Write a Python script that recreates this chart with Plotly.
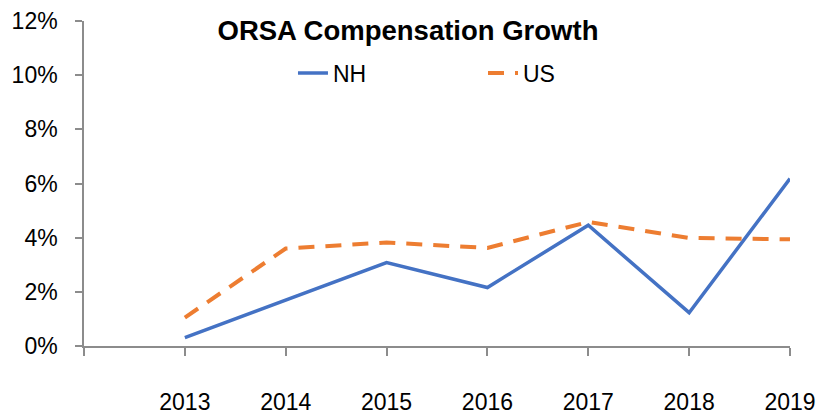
import plotly.graph_objects as go

years = [2013, 2014, 2015, 2016, 2017, 2018, 2019]
nh = [0.0031, 0.0169, 0.0308, 0.0216, 0.0446, 0.0123, 0.0618]
us = [0.0105, 0.0360, 0.0382, 0.0362, 0.0458, 0.0399, 0.0394]
year_labels = ["2013", "2014", "2015", "2016", "2017", "2018", "2019"]

FONT = "Liberation Sans"
AXIS_COLOR = "#8c8c8c"
OFF = 8  # page body margin
W, H = 832 - OFF, 415 - OFF

fig = go.Figure()
fig.add_trace(go.Scatter(x=years, y=nh, mode="lines", name="NH",
                         line=dict(color="#4472C4", width=3.5)))
fig.add_trace(go.Scatter(x=years, y=us, mode="lines", name="US",
                         line=dict(color="#ED7D31", width=4, dash="16px,11px")))

fig.update_layout(
    width=W, height=H,
    margin=dict(l=84 - OFF, r=W - (790 - OFF), t=21 - OFF, b=H - (346 - OFF), autoexpand=False),
    paper_bgcolor="white", plot_bgcolor="white",
    font=dict(family=FONT, size=23, color="black"),
    title=dict(text="<b>ORSA Compensation Growth</b>", x=(408 - OFF) / W, xanchor="center",
               y=1 - (30 - OFF) / H, yref="container",
               yanchor="middle", font=dict(family=FONT, size=27.5, color="black")),
    showlegend=True,
    legend=dict(orientation="h", x=0.296, xanchor="left", y=(346 - 73) / 325, yanchor="middle",
                entrywidth=145, entrywidthmode="pixels",
                font=dict(family=FONT, size=23), bgcolor="rgba(0,0,0,0)",
                itemclick=False),
    xaxis=dict(range=[2012, 2019], tickvals=[2012] + years, ticktext=[""] + year_labels,
               showgrid=False, zeroline=False, showline=True, linecolor=AXIS_COLOR,
               linewidth=1.5, ticks="outside", ticklen=8, tickcolor=AXIS_COLOR,
               tickwidth=1.5, ticklabelstandoff=27, automargin=False),
    yaxis=dict(range=[0, 0.12], dtick=0.02, tickformat=".0%", showgrid=False,
               zeroline=False, showline=True, linecolor=AXIS_COLOR, linewidth=1.5,
               ticks="outside", ticklen=7, tickcolor=AXIS_COLOR, tickwidth=1.5,
               ticklabelstandoff=13, automargin=False),
)

fig.write_html("out.html")
